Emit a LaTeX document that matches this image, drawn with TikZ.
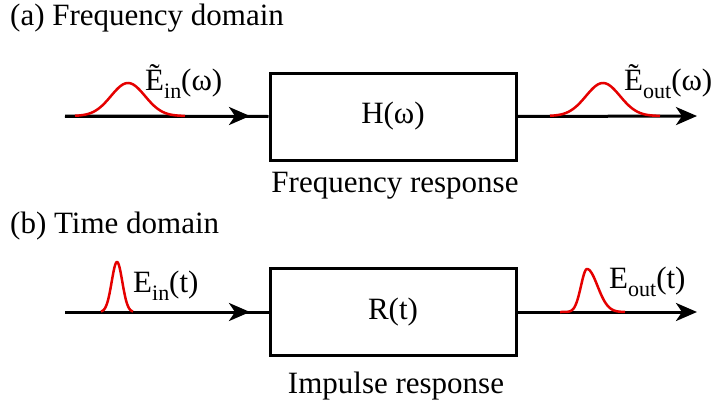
\documentclass[tikz,border=0pt]{standalone}
\usepackage{fontspec}
\setmainfont{Liberation Serif}
\newfontfamily\timesf{Liberation Serif}
\usetikzlibrary{arrows.meta}
\tikzset{
  wire/.style={line width=3pt, black},
  tipwire/.style={line width=3pt, black, -{Stealth[length=21pt,width=18pt,inset=6pt]}},
  block/.style={draw, line width=3pt, minimum width=246pt, minimum height=87pt, inner sep=0pt, font=\timesf\fontsize{31}{35}\selectfont},
  pulse/.style={line width=2.5pt, red!90!black, line join=round},
  txt/.style={inner sep=0pt, font=\timesf\fontsize{31}{35}\selectfont},
}
\newcommand{\sbs}[1]{\raisebox{-0.27em}{\timesf\fontsize{22}{25}\selectfont #1}}
\begin{document}
\begin{tikzpicture}[x=1pt,y=-1pt]
\useasboundingbox (0,0) rectangle (713,407);
% (a)
\node[txt, anchor=base west] (ta) at (10,25) {(a) Frequency domain};
\node[block] (H) at (393,116.5) {H(ω)};
\node[txt, anchor=base] (fr) at (395,192) {Frequency response};
\coordinate (a0) at (65,116);
\coordinate (a1) at (250,116);
\coordinate (a2) at (697,116);
\draw[wire] (a0) -- (H.west);
\draw[tipwire] (a0) -- (a1);
\draw[tipwire] (H.east) -- (a2);
\draw[pulse] plot[domain=75:185, samples=90] (\x, {116-33*exp(-((\x-128)^2)/(2*17^2))});
\draw[pulse] plot[domain=550:660, samples=90] (\x, {116-33*exp(-((\x-603)^2)/(2*17^2))});
\node[txt, anchor=base west] (ein) at (145,90) {Ẽ\sbs{in}(ω)};
\node[txt, anchor=base west] (eout) at (624,90) {Ẽ\sbs{out}(ω)};
% (b)
\node[txt, anchor=base west] (tb) at (10,233) {(b) Time domain};
\node[block] (R) at (393,312) {R(t)};
\node[txt, anchor=base] (ir) at (396,393) {Impulse response};
\coordinate (b0) at (65,312);
\coordinate (b1) at (250,312);
\coordinate (b2) at (697,312);
\draw[wire] (b0) -- (R.west);
\draw[tipwire] (b0) -- (b1);
\draw[tipwire] (R.east) -- (b2);
\draw[pulse] plot[domain=101:133, samples=80] (\x, {312-50*exp(-((\x-117)^2)/(2*5.3^2))});
\draw[pulse] plot[domain=560:587, samples=50] (\x, {312-43*exp(-((\x-587)^2)/(2*6^2))})
  -- plot[domain=587:625, samples=60] (\x, {312-43*exp(-((\x-587)^2)/(2*10.5^2))});
\node[txt, anchor=base west] (ein2) at (133,292) {E\sbs{in}(t)};
\node[txt, anchor=base west] (eout2) at (609,288) {E\sbs{out}(t)};
\end{tikzpicture}
\end{document}
